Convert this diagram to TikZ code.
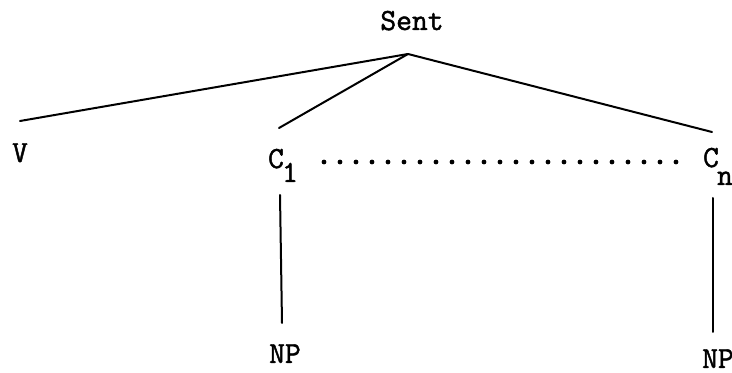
\documentclass[tikz,border=0pt]{standalone}
\usepackage{fontspec}
\setmonofont{Latin Modern Mono}[FakeBold=1.5]
\begin{document}
\begin{tikzpicture}[x=0.75pt,y=-0.75pt,
  lbl/.style={anchor=base,inner sep=0pt,font=\ttfamily\fontsize{23}{27}\selectfont},
  edge/.style={line width=1.5pt,line cap=round},
  dotmark/.style={fill=black,circle,inner sep=0pt,minimum size=3.6pt}]
\useasboundingbox (0,0) rectangle (732,373);
% labels
\node[lbl] (sent) at (412,30) {Sent};
\node[lbl] (v) at (20,162) {V};
\node[lbl] (c1) at (276,168) {C};
\node[lbl] (c1sub) at (290,182) {1};
\node[lbl] (cn) at (711,167) {C};
\node[lbl] (cnsub) at (725,185) {n};
\node[lbl] (np1) at (285,363) {NP};
\node[lbl] (np2) at (718,368) {NP};
% branch points
\coordinate (apex) at (408,54);
\coordinate (vtop) at (20,121);
\coordinate (c1top) at (279,128);
\coordinate (cntop) at (712,132);
\coordinate (c1low) at (280,195);
\coordinate (np1top) at (282,323);
\coordinate (cnlow) at (713,198);
\coordinate (np2top) at (713,332);
% edges
\draw[edge] (apex) -- (vtop);
\draw[edge] (apex) -- (c1top);
\draw[edge] (apex) -- (cntop);
\draw[edge] (c1low) -- (np1top);
\draw[edge] (cnlow) -- (np2top);
% dotted row
\foreach \i in {0,...,22}{
  \node[dotmark] (d\i) at ({324+16*\i},162) {};
}
\end{tikzpicture}
\end{document}
